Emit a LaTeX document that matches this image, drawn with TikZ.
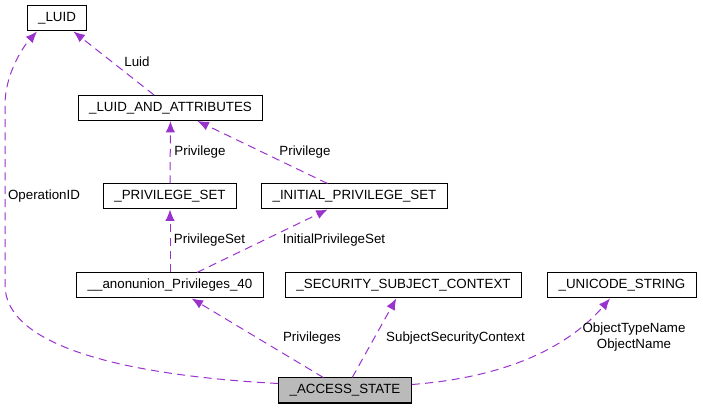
\documentclass[tikz,border=0pt]{standalone}
\usepackage{fontspec}
\setmainfont{Liberation Sans}
\usetikzlibrary{arrows.meta}
\usetikzlibrary{calc}
\definecolor{edgepurple}{HTML}{9A32CD}
\begin{document}
\begin{tikzpicture}[x=0.75pt, y=-0.75pt,
>={Latex[length=8.5pt, width=7pt]},
struct/.style={draw=black, line width=0.75pt, inner xsep=8.3pt, minimum height=18.75pt, font=\fontsize{10}{12}\selectfont},
mainstruct/.style={struct, fill=black!27},
member/.style={->, dashed, edgepurple, line width=0.75pt, dash pattern=on 6pt off 4pt},
felirat/.style={inner sep=0, font=\fontsize{10}{12}\selectfont, align=center}]
\useasboundingbox (0,0) rectangle (703,409);
%%%%%%%%%% STRUCTS %%%%%%%%%%%
\node [struct] (luid) at (57,18.5) {\_LUID};
\node [struct] (attrs) at (170.5,108) {\_LUID\_AND\_ATTRIBUTES};
\node [struct] (privset) at (170,196.5) {\_PRIVILEGE\_SET};
\node [struct] (initset) at (354.5,196.5) {\_INITIAL\_PRIVILEGE\_SET};
\node [struct] (anon) at (170,285.5) {\_\_anonunion\_Privileges\_40};
\node [struct] (secctx) at (403.5,285.5) {\_SECURITY\_SUBJECT\_CONTEXT};
\node [struct] (ustr) at (622,285.5) {\_UNICODE\_STRING};
\node [mainstruct] (access) at (345,390.5) {\_ACCESS\_STATE};
%%%%%%%%%% MEMBERS %%%%%%%%%%%
\draw [member] (attrs) -- (luid);
\node [felirat] (lLuid) at (137,62) {Luid};
\draw [member] (privset) -- (attrs);
\node [felirat] (lPriv) at (200,152) {Privilege};
\draw [member] (initset) -- (attrs);
\node [felirat] (lPrivB) at (305,152) {Privilege};
\draw [member] (anon) -- (privset);
\node [felirat] (lPrivSet) at (209.5,240) {PrivilegeSet};
\draw [member] (anon) -- (initset);
\node [felirat] (lInitSet) at (334,240) {InitialPrivilegeSet};
\draw [member] (access) -- (anon);
\node [felirat] (lPrivs) at (312,338) {Privileges};
\draw [member] (access) -- (secctx);
\node [felirat] (lSubj) at (455.5,338) {SubjectSecurityContext};
\draw [member] ($(access.east)+(0,-6)$) .. controls (510,377) and (570,345) .. ($(ustr.south)+(-12,0)$);
\node [felirat] (lObj) at (634,337) {ObjectTypeName\\ObjectName};
\draw [member] ($(access.west)+(0,-7)$) .. controls (120,375) and (5,345) .. (5,285) -- (5,105) .. controls (5,75) and (22,48) .. ($(luid.south)+(-20,0)$);
\node [felirat] (lOpId) at (44,196) {OperationID};
%%%%%%%%%% END %%%%%%%%%%%
\end{tikzpicture}
\end{document}
